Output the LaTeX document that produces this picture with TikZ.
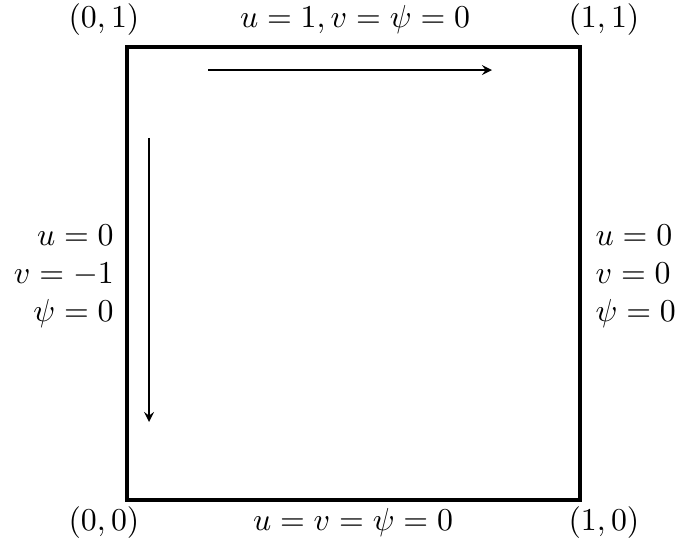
\documentclass[tikz,border=0pt]{standalone}
\usepackage{amsmath}
\usetikzlibrary{arrows,positioning,calc}

\begin{document}
\begin{tikzpicture}[
        auto,
        wall/.style={draw, line width=1.3pt},
        flow/.style={draw, -stealth, thin},
        corner/.style={inner sep=0pt},
        bclabel/.style={inner sep=0pt, align=left}
    ]
        \useasboundingbox (-1.402,-0.519) rectangle (6.071,5.519);
        % cavity walls
        \coordinate (A) at (0,0);
        \coordinate (B) at (5,0);
        \coordinate (C) at (5,5);
        \coordinate (D) at (0,5);
        \draw[wall] (A) rectangle (C);
        % corner labels
        \node[corner] (pA) at (-0.254,-0.254) {$(0,0)$};
        \node[corner] (pB) at (5.265,-0.254)  {$(1,0)$};
        \node[corner] (pC) at (5.265,5.298)   {$(1,1)$};
        \node[corner] (pD) at (-0.254,5.298)  {$(0,1)$};
        % boundary conditions
        \node[bclabel] (top)    at (2.517,5.298)  {$u=1, v=\psi=0$};
        \node[bclabel] (bottom) at (2.495,-0.254) {$u=v=\psi=0$};
        \node[bclabel, anchor=east, align=right] (left) at (-0.14,2.47)
            {$u=0$\\ $v=-1$\\ $\psi=0$};
        \node[bclabel, anchor=west] (right) at (5.166,2.47)
            {$u=0$\\ $v=0$\\ $\psi=0$};
        % moving lids
        \coordinate (lidS) at (0.894,4.746);
        \coordinate (lidE) at (4.029,4.746);
        \coordinate (wallS) at (0.243,3.996);
        \coordinate (wallE) at (0.243,0.861);
        \path[flow] (lidS)  -- (lidE);
        \path[flow] (wallS) -- (wallE);
    \end{tikzpicture}
\end{document}
